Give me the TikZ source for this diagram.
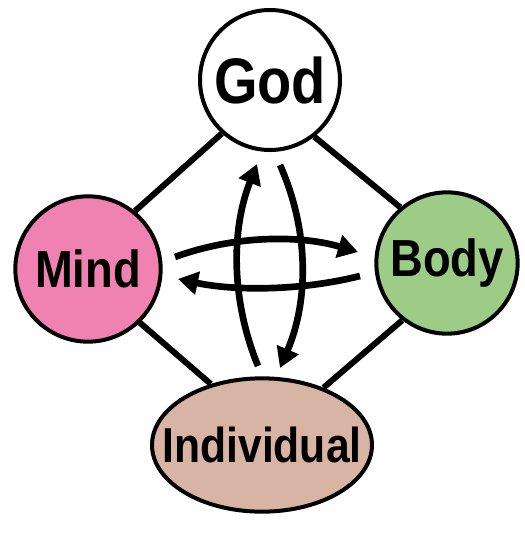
\documentclass[tikz,border=0pt]{standalone}
\usepackage{fontspec}
\usepackage{graphicx}
\setmainfont{Liberation Sans}
\usetikzlibrary{shapes.geometric,arrows.meta}
\definecolor{mindpink}{RGB}{240,130,178}
\definecolor{bodygreen}{RGB}{156,204,134}
\definecolor{indbrown}{RGB}{216,180,164}
\newcommand{\tallword}[2]{\raisebox{#1}{\scalebox{1}[1.15]{#2}}}
\tikzset{
  bubble/.style={draw=black, line width=3pt, circle, inner sep=0pt, font=\bfseries\fontsize{34}{34}\selectfont},
  link/.style={line width=4.5pt},
  flow/.style={line width=5pt, -{Triangle[length=15pt,width=17pt]}}
}
\begin{document}
\begin{tikzpicture}[x=0.75pt,y=-0.75pt]
\useasboundingbox (0,0) rectangle (525,537);
\node[bubble, fill=white, minimum size=105pt, font=\bfseries\fontsize{42}{42}\selectfont] (god) at (270,80) {\tallword{-4pt}{God}};
\node[bubble, fill=mindpink, minimum size=109pt] (mind) at (88,269) {\tallword{-2pt}{Mind}};
\node[bubble, fill=bodygreen, minimum size=106pt] (body) at (447,263) {\tallword{-3pt}{Body}};
\node[bubble, ellipse, fill=indbrown, minimum width=165pt, minimum height=100pt] (ind) at (262,445) {};
\node[font=\bfseries\fontsize{32}{32}\selectfont, inner sep=0pt] (indtext) at (ind.center) {\tallword{-5pt}{Individual}};
\draw[link] (god.228) -- (mind.51);
\draw[link] (god.308) -- (body.130);
\draw[link] (mind.314) -- (ind.130);
\draw[link] (body.232) -- (ind.43);
\coordinate (a1s) at (175,257);
\coordinate (a1e) at (358,252);
\coordinate (a2s) at (360,276);
\coordinate (a2e) at (178,279);
\coordinate (a3s) at (258,366);
\coordinate (a3e) at (257,164);
\coordinate (a4s) at (280,165);
\coordinate (a4e) at (280,368);
\draw[flow] (a1s) .. controls (235,235) and (300,235) .. (a1e);
\draw[flow] (a2s) .. controls (300,291) and (235,291) .. (a2e);
\draw[flow] (a3s) .. controls (231,300) and (231,230) .. (a3e);
\draw[flow] (a4s) .. controls (309,230) and (309,300) .. (a4e);
\end{tikzpicture}
\end{document}
